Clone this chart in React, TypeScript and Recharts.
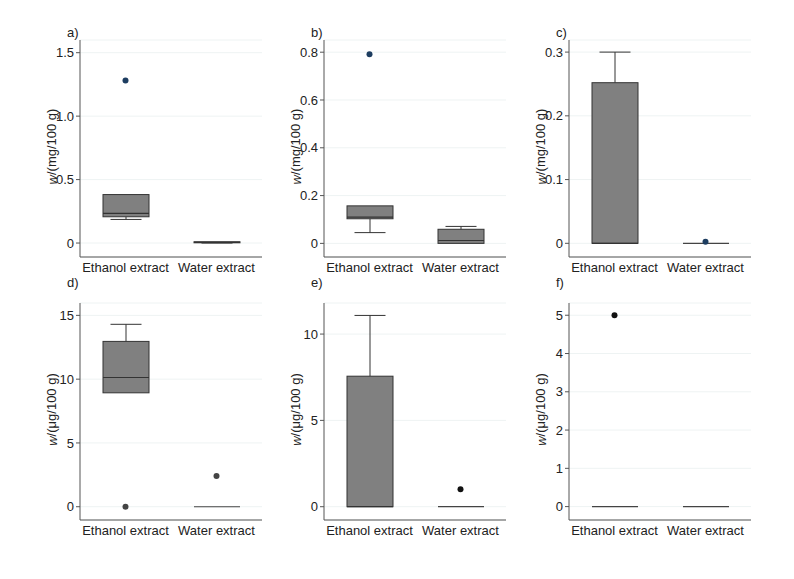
import { ComposedChart, Bar, Scatter, XAxis, YAxis, CartesianGrid } from 'recharts';

const categories = ['Ethanol extract', 'Water extract'];

// box statistics per category: [min, q1, median, q3, max]
const aEthanol = [0.186, 0.207, 0.233, 0.382, 0.382];
const aWater = [0, 0.002, 0.005, 0.01, 0.01];
const aOutliers = [1.28, null];
const aTicks = [0, 0.5, 1, 1.5];

const bEthanol = [0.045, 0.103, 0.11, 0.157, 0.157];
const bWater = [0, 0, 0.012, 0.059, 0.071];
const bOutliers = [0.791, null];
const bTicks = [0, 0.2, 0.4, 0.6, 0.8];

const cEthanol = [0, 0, 0, 0.252, 0.3];
const cWater = [0, 0, 0, 0, 0];
const cOutliers = [null, 0.0025];
const cTicks = [0, 0.1, 0.2, 0.3];

const dEthanol = [8.93, 8.93, 10.13, 12.96, 14.3];
const dWater = [0, 0, 0, 0, 0];
const dOutliers = [0, 2.41];
const dTicks = [0, 5, 10, 15];

const eEthanol = [0, 0, 0, 7.56, 11.08];
const eWater = [0, 0, 0, 0, 0];
const eOutliers = [null, 1.01];
const eTicks = [0, 5, 10];

const fEthanol = [0, 0, 0, 0, 0];
const fWater = [0, 0, 0, 0, 0];
const fOutliers = [5.0, null];
const fTicks = [0, 1, 2, 3, 4, 5];

const FONT = '"Liberation Sans", Arial, sans-serif';

const panels = [
  { tag: 'a)', unit: 'mg', stats: [aEthanol, aWater], outliers: aOutliers, ticks: aTicks, domain: [-0.11, 1.6], dec: 1, left: 0, top: 0, tagDy: 8, dot: '#1d3d60' },
  { tag: 'b)', unit: 'mg', stats: [bEthanol, bWater], outliers: bOutliers, ticks: bTicks, domain: [-0.057, 0.851], dec: 1, left: 244, top: 0, tagDy: 8, dot: '#1d3d60' },
  { tag: 'c)', unit: 'mg', stats: [cEthanol, cWater], outliers: cOutliers, ticks: cTicks, domain: [-0.0215, 0.319], dec: 1, left: 489, top: 0, tagDy: 8, dot: '#1d3d60' },
  { tag: 'd)', unit: 'μg', stats: [dEthanol, dWater], outliers: dOutliers, ticks: dTicks, domain: [-1.04, 15.97], dec: 0, left: 0, top: 263, tagDy: 21, dot: '#444444' },
  { tag: 'e)', unit: 'μg', stats: [eEthanol, eWater], outliers: eOutliers, ticks: eTicks, domain: [-0.77, 11.8], dec: 0, left: 244, top: 263, tagDy: 21, dot: '#111111' },
  { tag: 'f)', unit: 'μg', stats: [fEthanol, fWater], outliers: fOutliers, ticks: fTicks, domain: [-0.35, 5.32], dec: 0, left: 489, top: 263, tagDy: 21, dot: '#111111' },
];

function BoxShape(props: any) {
  const { x, y, width, height, payload } = props;
  const top = Math.min(y, y + height);
  const bottom = Math.max(y, y + height);
  const cx = x + width / 2;
  const { min, q1, med, q3, max } = payload;
  if (!(max - min > 0)) {
    return <line x1={x} x2={x + width} y1={top} y2={top} stroke="#444" strokeWidth={1.2} />;
  }
  const k = (bottom - top) / (max - min);
  const py = (v: number) => bottom - (v - min) * k;
  const cap = 15.5;
  return (
    <g>
      {max > q3 && (
        <g stroke="#333" strokeWidth={1}>
          <line x1={cx} x2={cx} y1={py(max)} y2={py(q3)} />
          <line x1={cx - cap} x2={cx + cap} y1={py(max)} y2={py(max)} />
        </g>
      )}
      {q1 > min && (
        <g stroke="#333" strokeWidth={1}>
          <line x1={cx} x2={cx} y1={py(q1)} y2={py(min)} />
          <line x1={cx - cap} x2={cx + cap} y1={py(min)} y2={py(min)} />
        </g>
      )}
      <rect x={x} y={py(q3)} width={width} height={Math.max(py(q1) - py(q3), 0.5)} fill="#808080" stroke="#333" strokeWidth={1} />
      <line x1={x} x2={x + width} y1={py(med)} y2={py(med)} stroke="#333" strokeWidth={1.2} />
    </g>
  );
}

function Panel({ p }: { p: any }) {
  const data = categories.map((name, i) => ({
    name,
    min: p.stats[i][0],
    q1: p.stats[i][1],
    med: p.stats[i][2],
    q3: p.stats[i][3],
    max: p.stats[i][4],
    outlier: p.outliers[i],
  }));
  const labels = (lp: any) => {
    const vb = lp.viewBox;
    const lx = vb.x + vb.width - 28.5;
    const ly = vb.y + vb.height / 2 - 2;
    return (
      <g fontFamily={FONT} fontSize={13} fill="#222">
        <text x={lx} y={ly} transform={`rotate(-90 ${lx} ${ly})`} textAnchor="middle" dominantBaseline="central">
          <tspan fontStyle="italic">w</tspan>/({p.unit}/100 g)
        </text>
        <text x={vb.x + vb.width - 13} y={vb.y - p.tagDy} textAnchor="start" dominantBaseline="central">
          {p.tag}
        </text>
      </g>
    );
  };
  return (
    <div style={{ position: 'absolute', left: p.left, top: p.top }}>
      <ComposedChart width={272} height={287} data={data} margin={{ top: 40, right: 10, bottom: 0, left: 0 }}>
        <CartesianGrid vertical={false} stroke="#eef3f3" />
        <XAxis
          dataKey="name"
          type="category"
          axisLine={{ stroke: '#555' }}
          tickLine={false}
          tickSize={0}
          tickMargin={6}
          height={30}
          tick={{ fontSize: 13, fill: '#222', fontFamily: FONT }}
          interval={0}
        />
        <YAxis
          type="number"
          domain={p.domain}
          ticks={p.ticks}
          allowDataOverflow
          width={80}
          axisLine={{ stroke: '#555' }}
          tickLine={{ stroke: '#555' }}
          tickSize={4}
          tickMargin={2}
          tick={{ fontSize: 13, fill: '#222', fontFamily: FONT }}
          tickFormatter={(v: number) => (v === 0 ? '0' : v.toFixed(p.dec))}
          label={{ content: labels }}
        />
        <Bar dataKey={(d: any) => [d.min, d.max]} barSize={46} shape={BoxShape} isAnimationActive={false} />
        <Scatter dataKey="outlier" fill={p.dot} isAnimationActive={false} shape={(s: any) => (s.cy == null || isNaN(s.cy) ? <g /> : <circle cx={s.cx} cy={s.cy} r={3} fill={p.dot} />)} />
      </ComposedChart>
    </div>
  );
}

export default function App() {
  return (
    <div style={{ position: 'absolute', left: 0, top: 0, width: 794, height: 579, background: '#fff' }}>
      {panels.map((p) => (
        <Panel key={p.tag} p={p} />
      ))}
    </div>
  );
}
